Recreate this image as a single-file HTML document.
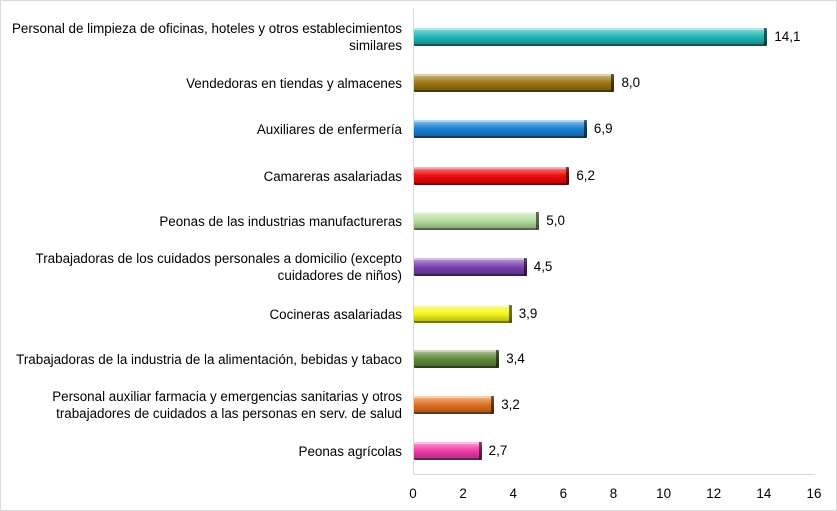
<!DOCTYPE html>
<html><head><meta charset="utf-8"><style>
body{margin:0;width:837px;height:511px;background:#fff;font-family:"Liberation Sans",sans-serif;overflow:hidden}
#c{position:absolute;left:0;top:0;width:835px;height:509px;border:1px solid #d9d9d9}
.l{position:absolute;right:435px;width:420px;text-align:right;font-size:13.4px;color:#000;line-height:17px}
.b{position:absolute;left:414px;height:18px;box-sizing:border-box;border-radius:1px}
.v{position:absolute;font-size:13.4px;color:#000}
.t{position:absolute;top:486px;font-size:13.4px;width:30px;margin-left:-15px;text-align:center}
</style></head><body><div id="c"></div>
<div style="position:absolute;left:413px;top:8px;width:1px;height:467px;background:#d9d9d9"></div>
<div style="position:absolute;left:413px;top:474px;width:402px;height:1px;background:#d9d9d9"></div>
<div id="g"></div>
<script>
var d=[["Personal de limpieza de oficinas, hoteles y otros establecimientos<br>similares",14.1,"#1fb5b5",37],
["Vendedoras en tiendas y almacenes",8.0,"#9a7712",83],
["Auxiliares de enfermería",6.9,"#1a7fd4",129],
["Camareras asalariadas",6.2,"#f00a0a",176],
["Peonas de las industrias manufactureras",5.0,"#b6dea0",221],
["Trabajadoras de los cuidados personales a domicilio (excepto<br>cuidadores de niños)",4.5,"#7a3fb0",267],
["Cocineras asalariadas",3.9,"#f5f51a",314],
["Trabajadoras de la industria de la alimentación, bebidas y tabaco",3.4,"#5f8a3c",359],
["Personal auxiliar farmacia y emergencias sanitarias y otros<br>trabajadores de cuidados a las personas en serv. de salud",3.2,"#e0701f",405],
["Peonas agrícolas",2.7,"#f03ca6",451]];
var h="",s=25.06;
d.forEach(function(r){var w=r[1]*s,c=r[2],two=r[0].indexOf("<br>")>0;
h+='<div class="l" style="top:'+(r[3]-(two?17:8.5))+'px">'+r[0]+'</div>';
h+='<div class="b" style="top:'+(r[3]-9)+'px;width:'+w+'px;background:linear-gradient(to bottom,rgba(255,255,255,.55) 0,rgba(255,255,255,.25) 25%,rgba(0,0,0,0) 50%,rgba(0,0,0,.3) 100%),'+c+';border-right:3px solid rgba(0,0,0,.55);box-shadow:inset 0 -2px 0 rgba(0,0,0,.35),inset 0 2px 0 rgba(255,255,255,.35)"></div>';
h+='<div class="v" style="left:'+(414+w+7)+'px;top:'+(r[3]-8)+'px">'+r[1].toFixed(1).replace(".",",")+'</div>';});
for(var i=0;i<=16;i+=2)h+='<div class="t" style="left:'+(413+i*s)+'px">'+i+'</div>';
document.getElementById("g").innerHTML=h;
</script></body></html>
